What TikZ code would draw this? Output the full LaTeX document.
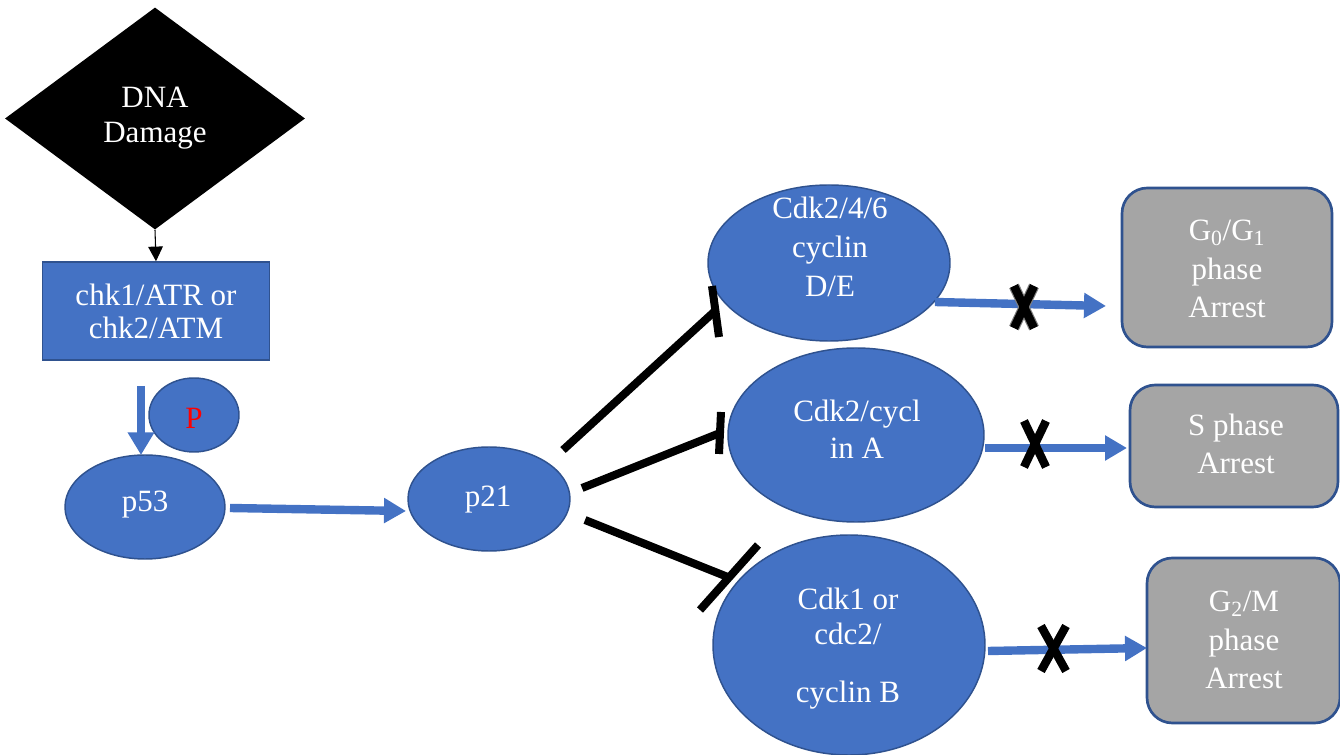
\documentclass[tikz,border=0pt]{standalone}
\usepackage{fontspec}
\setmainfont{Liberation Serif}
\usetikzlibrary{arrows.meta,shapes.geometric}
\definecolor{nodeblue}{HTML}{4472C4}
\definecolor{edgeblue}{HTML}{2F528F}
\definecolor{boxgray}{HTML}{A5A5A5}
\definecolor{xgray}{HTML}{808080}
\begin{document}
\begin{tikzpicture}[x=0.75pt,y=-0.75pt,
  bigfont/.style={font=\fontsize{23.25pt}{29pt}\selectfont},
  wtxt/.style={bigfont,text=white,align=center,inner sep=0pt},
  ell/.style={ellipse,draw=edgeblue,line width=1.1pt,fill=nodeblue,inner sep=0pt},
  gbox/.style={rectangle,rounded corners=19pt,draw=edgeblue,line width=2pt,fill=boxgray,inner sep=0pt},
  barr/.style={draw=nodeblue,line width=6.3pt,-{Triangle[length=16.5pt,width=18pt]}},
  inh/.style={draw=black,line width=6pt},
  xmk/.style={draw=black,line width=6.3pt},
  xout/.style={draw=xgray,line width=8pt}]
\useasboundingbox (0,0) rectangle (1340,755);

% DNA damage diamond
\node[diamond,fill=black,minimum width=225pt,minimum height=166.5pt,inner sep=0pt,
      wtxt,font=\fontsize{23.25pt}{26.25pt}\selectfont] (dna) at (155,118.5) {DNA\\Damage};
% checkpoint kinase box
\node[rectangle,draw=edgeblue,line width=1.1pt,fill=nodeblue,minimum width=170.25pt,minimum height=73.5pt,
      wtxt,font=\fontsize{23.25pt}{24.75pt}\selectfont] (chk) at (156,311) {chk1/ATR or\\chk2/ATM};
\draw[line width=0.8pt,-{Triangle[length=11pt,width=11pt]}] (dna.south) -- (chk.north);

% P and p53
\node[ell,minimum width=67.5pt,minimum height=55.5pt] (P) at (194,415) {};
\node[bigfont,text=red,inner sep=0pt] (Ptxt) at (194,418) {P};
\node[ell,minimum width=120pt,minimum height=78pt] (p53) at (145,507) {};
\node[wtxt] (p53t) at (145,505) {p53};
\coordinate (dA) at (141,386);
\coordinate (dB) at (141,455);
\draw[draw=nodeblue,line width=6pt,-{Triangle[length=17pt,width=19pt]}] (dA) -- (dB);

% p21
\node[ell,minimum width=121.5pt,minimum height=78pt] (p21) at (489,499) {};
\node[wtxt] (p21t) at (488,500) {p21};
\coordinate (pA) at (230,508);
\coordinate (pB) at (406,511);
\draw[barr] (pA) -- (pB);

% Cdk ellipses
\node[ell,minimum width=181.5pt,minimum height=117pt] (cdkDE) at (829,263) {};
\node[wtxt,font=\fontsize{23.25pt}{29.5pt}\selectfont] (cdkDEt) at (830,247) {Cdk2/4/6\\cyclin\\D/E};
\node[ell,minimum width=192pt,minimum height=130.5pt] (cdkA) at (856,435) {};
\node[wtxt,font=\fontsize{23.25pt}{27.75pt}\selectfont] (cdkAt) at (857,429) {Cdk2/cycl\\in A};
\node[ell,minimum width=204pt,minimum height=165pt] (cdkB) at (849,645) {};
\node[wtxt,font=\fontsize{23.25pt}{26.25pt}\selectfont] (cdkBt) at (848,648.5) {Cdk1 or\\cdc2/\\[17.25pt]cyclin B};

% inhibition lines
\coordinate (i1s) at (563,450); \coordinate (i1e) at (715,311);
\coordinate (b1a) at (712,286); \coordinate (b1b) at (719,337);
\coordinate (i2s) at (582,488); \coordinate (i2e) at (720,433);
\coordinate (b2a) at (721,412); \coordinate (b2b) at (719,454);
\coordinate (i3s) at (585,520); \coordinate (i3e) at (729,577.5);
\coordinate (b3a) at (758,545); \coordinate (b3b) at (700,610);
\draw[inh] (i1s) -- (i1e); \draw[inh] (b1a) -- (b1b);
\draw[inh] (i2s) -- (i2e); \draw[inh] (b2a) -- (b2b);
\draw[inh] (i3s) -- (i3e); \draw[inh] (b3a) -- (b3b);

% arrest boxes
\node[gbox,minimum width=157.5pt,minimum height=119.25pt] (g1) at (1227,267.5) {};
\node[wtxt] (g1t) at (1227,269) {G\textsubscript{0}/G\textsubscript{1}\\phase\\Arrest};
\node[gbox,minimum width=156pt,minimum height=91.5pt] (sph) at (1234,446) {};
\node[wtxt] (spht) at (1236,444) {S phase\\Arrest};
\node[gbox,minimum width=144.75pt,minimum height=123.75pt] (g2) at (1243.5,640.5) {};
\node[wtxt] (g2t) at (1244,640) {G\textsubscript{2}/M\\phase\\Arrest};

% arrows to arrest boxes
\coordinate (a1s) at (935,302); \coordinate (a1e) at (1106,306);
\coordinate (a2s) at (985,448); \coordinate (a2e) at (1127,448);
\coordinate (a3s) at (988,651); \coordinate (a3e) at (1147,648);
\draw[barr] (a1s) -- (a1e);
\draw[barr] (a2s) -- (a2e);
\draw[barr] (a3s) -- (a3e);

% X marks
\draw[xout] (1014,286) -- (1034,328); \draw[xout] (1034,286) -- (1014,328);
\draw[xmk] (1014,286) -- (1034,328); \draw[xmk] (1034,286) -- (1014,328);
\draw[xmk] (1024,421) -- (1046,467); \draw[xmk] (1046,421) -- (1024,467);
\draw[xmk] (1041,626) -- (1066,671); \draw[xmk] (1066,626) -- (1041,671);
\end{tikzpicture}
\end{document}
